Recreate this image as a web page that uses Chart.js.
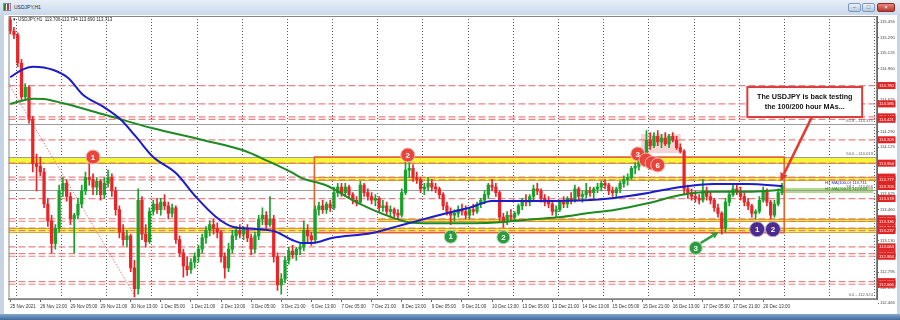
<!DOCTYPE html>
<html>
<head>
<meta charset="utf-8">
<title>USDJPY,H1</title>
<script src="https://cdn.jsdelivr.net/npm/chart.js@4.4.1/dist/chart.umd.min.js"></script>
<style>
  html, body { margin: 0; padding: 0; }
  body { width: 900px; height: 320px; overflow: hidden; position: relative; background: #c6d4e4; font-family: "Liberation Sans", Arial, sans-serif; }
  #titlebar { position: absolute; left: 0; top: 0; width: 900px; height: 15px; background: linear-gradient(#e8eff8, #c9d8ea); }
  #titlebar .icon { position: absolute; left: 3px; top: 3px; width: 8px; height: 8px; box-sizing: border-box; border: 1px solid #7b8ea6; background: linear-gradient(90deg, #2f8a2f 0 35%, #fff 35% 50%, #d23 50% 85%, #fff 85%); }
  #titlebar .name { position: absolute; left: 14px; top: 4px; font-size: 5px; color: #1d2a3c; }
  .btn { position: absolute; top: 3px; height: 9px; box-sizing: border-box; border: 1px solid #7f98b8; border-radius: 2px; background: linear-gradient(#edf3fa, #b7cae1); font-size: 6px; line-height: 7px; text-align: center; color: #3d536e; }
  .btn.close { background: linear-gradient(#e88a7f, #b9352c); border-color: #8c2a22; color: #fff; }
  #panel { position: absolute; left: 4px; top: 15px; width: 893px; height: 299px; background: #fff; }
  #bottom { position: absolute; left: 0; top: 314px; width: 900px; height: 6px; background: linear-gradient(#86a7cb, #3e6b9b); }
  canvas { position: absolute; left: 0; top: 0; }
</style>
</head>
<body>
<div id="titlebar">
  <div class="icon"></div>
  <div class="name">USDJPY,H1</div>
  <div class="btn" style="left:848px;width:13px;">&#8211;</div>
  <div class="btn" style="left:862px;width:13px;">&#9633;</div>
  <div class="btn close" style="left:877px;width:18px;">&#215;</div>
</div>
<div id="panel"></div>
<div id="bottom"></div>
<canvas id="chart" width="900" height="320"></canvas>
<script>
// time axis: one label every 8 two-hour candles
const timeLabels = ["25 Nov 2021", "26 Nov 13:00", "29 Nov 05:00", "29 Nov 21:00", "30 Nov 13:00", "1 Dec 05:00",
  "1 Dec 21:00", "2 Dec 13:00", "3 Dec 05:00", "3 Dec 21:00", "6 Dec 13:00", "7 Dec 05:00", "7 Dec 21:00",
  "8 Dec 13:00", "9 Dec 05:00", "9 Dec 21:00", "10 Dec 13:00", "13 Dec 05:00", "13 Dec 21:00", "14 Dec 13:00",
  "15 Dec 05:00", "15 Dec 21:00", "16 Dec 13:00", "17 Dec 05:00", "17 Dec 21:00", "20 Dec 13:00"];
const timeTicks = [0, 8, 16, 24, 32, 40, 48, 56, 64, 72, 80, 88, 96, 104, 112, 120, 128, 136, 144, 152, 160, 168, 176, 184, 192, 200];
const dayLines = [1.5, 13.5, 25.5, 37.5, 49.5, 61.5, 73.5, 85.5, 97.5, 109.5, 121.5, 133.5, 145.5, 157.5, 169.5, 181.5, 193.5, 205.5, 217.5, 229.5];

const priceTicks = [112.465, 112.630, 112.795, 112.965, 113.130, 113.295, 113.460, 113.625, 113.795, 113.960,
  114.125, 114.290, 114.460, 114.625, 114.790, 114.960, 115.125, 115.290, 115.455];

// candles (2-hour)
const opens = [
  115.48,115.36,115.32,115.02,114.66,114.76,114.42,113.95,113.92,113.86,
  113.52,113.34,113.10,113.26,113.66,113.74,113.60,113.36,113.40,113.52,
  113.66,113.80,113.78,113.70,113.76,113.62,113.74,113.80,113.66,113.46,
  113.22,113.14,113.18,112.84,112.62,113.56,113.20,113.12,113.44,113.52,
  113.46,113.54,113.50,113.42,113.48,113.14,113.00,112.86,112.82,112.90,
  112.96,113.04,113.16,113.24,113.30,113.26,113.22,112.96,112.84,113.04,
  113.18,113.24,113.20,113.26,113.16,113.04,113.18,113.36,113.40,113.30,
  113.36,112.96,112.66,112.72,112.92,113.02,112.98,113.04,113.06,113.24,
  113.18,113.14,113.46,113.50,113.46,113.52,113.48,113.64,113.70,113.64,
  113.70,113.62,113.56,113.54,113.72,113.64,113.60,113.56,113.58,113.48,
  113.50,113.44,113.46,113.42,113.40,113.64,113.88,113.90,113.80,113.78,
  113.68,113.70,113.74,113.70,113.68,113.62,113.50,113.44,113.40,113.42,
  113.46,113.44,113.40,113.46,113.44,113.52,113.56,113.62,113.72,113.70,
  113.64,113.38,113.34,113.40,113.38,113.42,113.50,113.56,113.54,113.60,
  113.68,113.66,113.58,113.54,113.52,113.44,113.46,113.54,113.52,113.58,
  113.56,113.68,113.60,113.62,113.66,113.64,113.68,113.70,113.74,113.72,
  113.66,113.64,113.68,113.74,113.78,113.80,113.90,113.92,113.98,114.04,
  114.20,114.14,114.24,114.18,114.22,114.16,114.24,114.20,114.12,114.08,
  113.68,113.64,113.60,113.58,113.56,113.66,113.60,113.56,113.48,113.42,
  113.26,113.54,113.62,113.68,113.66,113.60,113.54,113.50,113.42,113.44,
  113.56,113.66,113.54,113.40,113.52,113.64];
const highs = [
  115.51,115.40,115.34,115.06,114.80,114.78,114.45,114.05,114.02,113.90,
  113.58,113.40,113.30,113.72,113.80,113.78,113.64,113.42,113.58,113.72,
  113.86,113.95,113.84,113.80,113.78,113.80,113.88,113.84,113.70,113.50,
  113.30,113.24,113.20,112.92,113.68,113.60,113.30,113.48,113.56,113.58,
  113.58,113.62,113.54,113.52,113.50,113.18,113.04,112.96,112.94,113.00,
  113.08,113.20,113.28,113.34,113.36,113.32,113.24,113.00,113.10,113.24,
  113.28,113.30,113.28,113.30,113.20,113.22,113.40,113.48,113.44,113.60,
  113.40,113.00,112.78,112.96,113.06,113.08,113.06,113.10,113.34,113.30,
  113.22,113.50,113.54,113.56,113.54,113.56,113.70,113.74,113.74,113.74,
  113.72,113.64,113.60,113.76,113.74,113.68,113.64,113.62,113.60,113.56,
  113.54,113.50,113.48,113.46,113.68,113.96,113.96,113.94,113.86,113.80,
  113.74,113.80,113.78,113.74,113.70,113.64,113.54,113.48,113.46,113.50,
  113.52,113.50,113.48,113.52,113.54,113.58,113.66,113.74,113.78,113.74,
  113.66,113.42,113.44,113.46,113.44,113.52,113.58,113.62,113.62,113.72,
  113.74,113.68,113.62,113.60,113.54,113.50,113.56,113.60,113.60,113.64,
  113.72,113.70,113.66,113.74,113.70,113.70,113.74,113.76,113.78,113.74,
  113.70,113.70,113.76,113.82,113.84,113.92,113.96,114.00,114.06,114.30,
  114.28,114.28,114.30,114.26,114.28,114.26,114.28,114.24,114.16,114.10,
  113.72,113.68,113.66,113.62,113.78,113.70,113.64,113.58,113.52,113.44,
  113.58,113.66,113.72,113.72,113.70,113.64,113.58,113.52,113.46,113.60,
  113.70,113.68,113.56,113.56,113.68,113.74];
const lows = [
  115.33,115.28,114.98,114.62,114.62,114.38,113.86,113.66,113.82,113.48,
  113.28,113.00,113.04,113.22,113.60,113.55,113.30,113.00,113.36,113.48,
  113.62,113.72,113.62,113.62,113.56,113.58,113.70,113.60,113.40,113.16,
  113.08,113.06,112.80,112.53,112.56,113.14,113.06,113.10,113.40,113.42,
  113.40,113.46,113.36,113.38,113.10,112.96,112.74,112.76,112.78,112.84,
  112.90,113.00,113.10,113.18,113.20,113.16,112.90,112.73,112.80,113.00,
  113.14,113.16,113.14,113.12,112.98,113.00,113.14,113.30,113.26,113.28,
  112.90,112.60,112.56,112.68,112.88,112.94,112.92,112.98,113.02,113.12,
  113.08,113.10,113.40,113.42,113.42,113.44,113.46,113.60,113.60,113.60,
  113.58,113.52,113.50,113.52,113.60,113.56,113.52,113.50,113.44,113.44,
  113.40,113.38,113.38,113.36,113.38,113.62,113.80,113.76,113.74,113.64,
  113.62,113.66,113.66,113.64,113.58,113.46,113.40,113.30,113.34,113.38,
  113.40,113.36,113.36,113.40,113.42,113.48,113.52,113.58,113.66,113.60,
  113.34,113.27,113.30,113.34,113.34,113.40,113.46,113.50,113.50,113.56,
  113.62,113.54,113.50,113.48,113.40,113.38,113.44,113.48,113.48,113.52,
  113.54,113.56,113.54,113.58,113.60,113.58,113.64,113.66,113.68,113.62,
  113.60,113.58,113.64,113.70,113.72,113.78,113.84,113.88,113.94,114.00,
  114.10,114.12,114.14,114.12,114.14,114.12,114.18,114.10,114.06,113.62,
  113.58,113.56,113.54,113.52,113.54,113.56,113.52,113.44,113.38,113.20,
  113.22,113.50,113.60,113.62,113.56,113.50,113.46,113.38,113.36,113.42,
  113.54,113.50,113.36,113.38,113.50,113.62];
const closes = [
  115.36,115.32,115.02,114.66,114.76,114.42,113.95,113.92,113.86,113.52,
  113.34,113.10,113.26,113.66,113.74,113.60,113.36,113.40,113.52,113.66,
  113.80,113.78,113.70,113.76,113.62,113.74,113.80,113.66,113.46,113.22,
  113.14,113.18,112.84,112.62,113.56,113.20,113.12,113.44,113.52,113.46,
  113.54,113.50,113.42,113.48,113.14,113.00,112.86,112.82,112.90,112.96,
  113.04,113.16,113.24,113.30,113.26,113.22,112.96,112.84,113.04,113.18,
  113.24,113.20,113.26,113.16,113.04,113.18,113.36,113.40,113.30,113.36,
  112.96,112.66,112.72,112.92,113.02,112.98,113.04,113.06,113.24,113.18,
  113.14,113.46,113.50,113.46,113.52,113.48,113.64,113.70,113.64,113.70,
  113.62,113.56,113.54,113.72,113.64,113.60,113.56,113.58,113.48,113.50,
  113.44,113.46,113.42,113.40,113.64,113.88,113.90,113.80,113.78,113.68,
  113.70,113.74,113.70,113.68,113.62,113.50,113.44,113.40,113.42,113.46,
  113.44,113.40,113.46,113.44,113.52,113.56,113.62,113.72,113.70,113.64,
  113.38,113.34,113.40,113.38,113.42,113.50,113.56,113.54,113.60,113.68,
  113.66,113.58,113.54,113.52,113.44,113.46,113.54,113.52,113.58,113.56,
  113.68,113.60,113.62,113.66,113.64,113.68,113.70,113.74,113.72,113.66,
  113.64,113.68,113.74,113.78,113.80,113.90,113.92,113.98,114.04,114.20,
  114.14,114.24,114.18,114.22,114.16,114.24,114.20,114.12,114.08,113.68,
  113.64,113.60,113.58,113.56,113.66,113.60,113.56,113.48,113.42,113.26,
  113.54,113.62,113.68,113.66,113.60,113.54,113.50,113.42,113.44,113.56,
  113.66,113.54,113.40,113.52,113.64,113.71];

// moving averages
const ma100X = [0, 3.0, 6.2, 11.5, 15.4, 19.4, 24.7, 29.0, 33.4, 37.9, 44.0, 49.3, 54.6, 59.1, 65.2, 70.5, 74.9,
  77.6, 80.2, 85.5, 96.1, 104.1, 112.0, 117.3, 122.6, 127.9, 136.6, 154.3, 160.4, 169.4, 178.1, 186.9, 195.9, 205.1];
const ma100Y = [114.868, 114.945, 114.980, 114.945, 114.860, 114.679, 114.555, 114.431, 114.236, 114.023, 113.850,
  113.597, 113.385, 113.278, 113.254, 113.225, 113.137, 113.105, 113.105, 113.158, 113.211, 113.296, 113.381, 113.435,
  113.488, 113.552, 113.552, 113.563, 113.584, 113.637, 113.701, 113.733, 113.733, 113.711];
const ma200X = [0, 6.2, 8.8, 14.1, 24.7, 37.9, 51.1, 61.7, 68.8, 74.9, 77.6, 83.7, 92.6, 101.4, 106.7, 114.6, 127.9,
  136.6, 145.5, 154.3, 160.4, 169.3, 178.1, 186.9, 195.8, 204.6];
const ma200Y = [114.584, 114.640, 114.637, 114.591, 114.474, 114.325, 114.201, 114.094, 113.970, 113.853, 113.793,
  113.722, 113.527, 113.378, 113.321, 113.315, 113.321, 113.350, 113.378, 113.427, 113.456, 113.527, 113.616, 113.651,
  113.651, 113.669];

// drawn objects
const levelLines = [114.780, 114.585, 114.447, 114.421, 114.203, 113.954, 113.806, 113.777, 113.578, 113.363, 113.336,
  113.264, 113.237, 113.064, 112.992, 112.964, 112.694, 112.666];
const priceTags = [114.780, 114.585, 114.447, 114.421, 114.203, 113.954, 113.806, 113.777, 113.706, 113.578, 113.363,
  113.336, 113.264, 113.237, 113.064, 112.992, 112.964, 112.694, 112.666];
const fibLevels = [114.371, 114.019, 113.666, 112.524];
const fibNames = ["61.8", "50.0", "38.2", "0.0"];
const fibLineX = [-11.0, 33.4];
const fibLineY = [115.514, 112.524];
const zoneFrom = [-0.45, 80.8, 97.4, -0.45];
const zoneLow = [113.954, 113.777, 113.336, 113.225];
const zoneHigh = [114.019, 113.806, 113.363, 113.264];
const boxX = [80.8, 205.6];
const boxY = [113.215, 114.019];
const highlightX = [167.6, 178.1];
const highlightY = [114.062, 114.265];
const maTagX = [205.5, 229.2];
const maTagY = [113.637, 113.690];

const redMarkX = [22.0, 105.6, 166.7, 168.9, 170.5, 172.0];
const redMarkY = [114.020, 114.041, 114.052, 113.988, 113.956, 113.935];
const redMarkText = ["1", "2", "3", "4", "5", "6"];
const greenMarkX = [117.0, 131.0, 182.1];
const greenMarkY = [113.172, 113.166, 113.052];
const greenMarkText = ["1", "2", "3"];
const purpleMarkX = [198.4, 202.6];
const purpleMarkY = [113.251, 113.251];
const purpleMarkText = ["1", "2"];

const noteLines = ["The USDJPY is back testing", "the 100/200 hour MAs..."];
const noteX = [195.8, 226.3];
const noteY = [114.445, 114.764];
const redArrowX = [213.0, 204.6];
const redArrowY = [114.449, 113.764];
const greenArrowX = [183.4, 188.2];
const greenArrowY = [113.105, 113.222];

const symbolName = "USDJPY,H1";
const lastBar = ["113.706", "113.734", "113.690", "113.713"];

const BULL = "#17a22a";
const BEAR = "#e8262a";
const FONT = '"Liberation Sans", Arial, sans-serif';

function arrow(ctx, x0, y0, x1, y1, color, width, head) {
    const ang = Math.atan2(y1 - y0, x1 - x0);
    const bx = x1 - Math.cos(ang) * head;
    const by = y1 - Math.sin(ang) * head;
    ctx.strokeStyle = color;
    ctx.fillStyle = color;
    ctx.lineWidth = width;
    ctx.beginPath();
    ctx.moveTo(x0, y0);
    ctx.lineTo(bx, by);
    ctx.stroke();
    ctx.beginPath();
    ctx.moveTo(x1, y1);
    ctx.lineTo(bx + Math.sin(ang) * head * 0.5, by - Math.cos(ang) * head * 0.5);
    ctx.lineTo(bx - Math.sin(ang) * head * 0.5, by + Math.cos(ang) * head * 0.5);
    ctx.closePath();
    ctx.fill();
}

const overlay = {
    id: "overlay",
    beforeDatasetsDraw(chart) {
        const { ctx, chartArea: a, scales: { x, y } } = chart;
        ctx.save();
        ctx.beginPath();
        ctx.rect(a.left, a.top, a.right - a.left, a.bottom - a.top);
        ctx.clip();

        ctx.strokeStyle = "rgba(60,60,60,0.85)";
        ctx.lineWidth = 1;
        ctx.setLineDash([1, 2]);
        dayLines.forEach(v => {
            const px = Math.round(x.getPixelForValue(v)) + 0.5;
            ctx.beginPath();
            ctx.moveTo(px, a.top);
            ctx.lineTo(px, a.bottom);
            ctx.stroke();
        });
        ctx.setLineDash([]);

        // highlight box at the 15 Dec highs
        const hx0 = x.getPixelForValue(highlightX[0]), hx1 = x.getPixelForValue(highlightX[1]);
        const hy0 = y.getPixelForValue(highlightY[1]), hy1 = y.getPixelForValue(highlightY[0]);
        ctx.fillStyle = "rgba(242,160,160,0.45)";
        ctx.fillRect(hx0, hy0, hx1 - hx0, hy1 - hy0);

        zoneLow.forEach((lo, k) => {
            const x0 = x.getPixelForValue(zoneFrom[k]);
            const y0 = y.getPixelForValue(zoneHigh[k]);
            const y1 = y.getPixelForValue(lo);
            ctx.fillStyle = "rgba(245,245,35,0.9)";
            ctx.fillRect(x0, y0, a.right - x0, y1 - y0);
            ctx.strokeStyle = "rgba(205,160,30,0.9)";
            ctx.lineWidth = 1;
            ctx.beginPath();
            ctx.moveTo(x0, Math.round(y0) + 0.5);
            ctx.lineTo(a.right, Math.round(y0) + 0.5);
            ctx.moveTo(x0, Math.round(y1) + 0.5);
            ctx.lineTo(a.right, Math.round(y1) + 0.5);
            ctx.stroke();
        });

        const gx0 = x.getPixelForValue(maTagX[0]), gx1 = x.getPixelForValue(maTagX[1]);
        const gy0 = y.getPixelForValue(maTagY[1]), gy1 = y.getPixelForValue(maTagY[0]);
        ctx.fillStyle = "rgba(150,205,95,0.75)";
        ctx.fillRect(gx0, gy0, gx1 - gx0, gy1 - gy0);

        ctx.strokeStyle = "rgba(228,112,112,0.85)";
        ctx.lineWidth = 1.2;
        ctx.setLineDash([7, 3]);
        levelLines.forEach(v => {
            const py = y.getPixelForValue(v);
            ctx.beginPath();
            ctx.moveTo(a.left, py);
            ctx.lineTo(a.right, py);
            ctx.stroke();
        });
        ctx.setLineDash([]);

        ctx.strokeStyle = "#9c9c9c";
        ctx.lineWidth = 1;
        fibLevels.forEach(v => {
            const py = Math.round(y.getPixelForValue(v)) + 0.5;
            ctx.beginPath();
            ctx.moveTo(a.left, py);
            ctx.lineTo(a.right, py);
            ctx.stroke();
        });

        const bx0 = x.getPixelForValue(boxX[0]), bx1 = x.getPixelForValue(boxX[1]);
        const by0 = y.getPixelForValue(boxY[1]), by1 = y.getPixelForValue(boxY[0]);
        ctx.strokeStyle = "#e6602e";
        ctx.lineWidth = 1.6;
        ctx.strokeRect(bx0, by0, bx1 - bx0, by1 - by0);
        ctx.restore();
    },
    afterDatasetsDraw(chart) {
        const { ctx, chartArea: a, scales: { x, y } } = chart;
        ctx.save();

        // marker numbers, hidden where a later circle covers them
        [[0, redMarkText], [1, greenMarkText], [2, purpleMarkText]].forEach(([di, texts]) => {
            const pts = chart.getDatasetMeta(di).data;
            pts.forEach((p, j) => {
                const covered = pts.slice(j + 1).some(q => Math.hypot(q.x - p.x, q.y - p.y) < 7);
                if (covered) return;
                ctx.fillStyle = "#fff";
                ctx.font = "bold 8px " + FONT;
                ctx.textAlign = "center";
                ctx.textBaseline = "middle";
                ctx.fillText(texts[j], p.x, p.y + 0.5);
            });
        });

        arrow(ctx, x.getPixelForValue(greenArrowX[0]), y.getPixelForValue(greenArrowY[0]),
            x.getPixelForValue(greenArrowX[1]), y.getPixelForValue(greenArrowY[1]), "#2f9d3c", 2.5, 7);
        arrow(ctx, x.getPixelForValue(redArrowX[0]), y.getPixelForValue(redArrowY[0]),
            x.getPixelForValue(redArrowX[1]), y.getPixelForValue(redArrowY[1]), "#e43a34", 2.5, 8);

        const nx0 = x.getPixelForValue(noteX[0]), nx1 = x.getPixelForValue(noteX[1]);
        const ny0 = y.getPixelForValue(noteY[1]), ny1 = y.getPixelForValue(noteY[0]);
        ctx.fillStyle = "#fff";
        ctx.fillRect(nx0, ny0, nx1 - nx0, ny1 - ny0);
        ctx.strokeStyle = "#d83c3c";
        ctx.lineWidth = 2;
        ctx.strokeRect(nx0, ny0, nx1 - nx0, ny1 - ny0);
        ctx.fillStyle = "#111";
        ctx.font = "bold 7.2px " + FONT;
        ctx.textAlign = "center";
        ctx.textBaseline = "middle";
        noteLines.forEach((t, k) => ctx.fillText(t, (nx0 + nx1) / 2, ny0 + 10 + k * 10));

        ctx.font = "4.2px " + FONT;
        ctx.textAlign = "right";
        ctx.textBaseline = "bottom";
        ctx.fillStyle = "#606060";
        fibLevels.forEach((v, k) => {
            ctx.fillText(fibNames[k] + " - " + v.toFixed(3), a.right - 4, y.getPixelForValue(v) - 1);
        });

        const last100 = ma100Y[ma100Y.length - 1], last200 = ma200Y[ma200Y.length - 1];
        ctx.textAlign = "left";
        ctx.textBaseline = "middle";
        ctx.fillStyle = "#1c1cc8";
        ctx.fillText("H1 MA(100,0) " + last100.toFixed(3), a.right - 52, y.getPixelForValue(last100) - 3);
        ctx.fillStyle = "#1e7a22";
        ctx.fillText("H1 MA(200,0) " + last200.toFixed(3), a.right - 52, y.getPixelForValue(last200) - 1);

        ctx.fillStyle = "#1a1a1a";
        ctx.font = "4.5px " + FONT;
        ctx.textBaseline = "middle";
        ctx.fillText("\u25BE  " + symbolName + "  " + lastBar.join(" "), a.left + 4, a.top + 4);

        ctx.strokeStyle = "#858585";
        ctx.lineWidth = 1;
        ctx.strokeRect(a.left + 0.5, a.top + 0.5, a.right - a.left - 1, a.bottom - a.top);
        ctx.restore();
    },
    afterDraw(chart) {
        const { ctx, chartArea: a, scales: { y } } = chart;
        ctx.save();
        ctx.font = "4.2px " + FONT;
        ctx.textAlign = "center";
        ctx.textBaseline = "middle";
        priceTags.forEach(v => {
            const py = y.getPixelForValue(v);
            ctx.fillStyle = "#e02424";
            ctx.fillRect(a.right + 0.5, py - 3.5, 18, 7);
            ctx.fillStyle = "#fff";
            ctx.fillText(v.toFixed(3), a.right + 9.5, py + 0.3);
        });
        ctx.restore();
    }
};

const candleColors = closes.map((c, i) => (c >= opens[i] ? BULL : BEAR));

new Chart(document.getElementById("chart"), {
    type: "bar",
    data: {
        datasets: [
            {
                type: "scatter",
                data: redMarkX.map((v, i) => ({ x: v, y: redMarkY[i] })),
                pointRadius: 7,
                backgroundColor: "#e8453c",
                borderColor: "#f7b3aa",
                borderWidth: 1
            },
            {
                type: "scatter",
                data: greenMarkX.map((v, i) => ({ x: v, y: greenMarkY[i] })),
                pointRadius: 6.5,
                backgroundColor: "#2c9a3e",
                borderColor: "#a9dcae",
                borderWidth: 1
            },
            {
                type: "scatter",
                data: purpleMarkX.map((v, i) => ({ x: v, y: purpleMarkY[i] })),
                pointRadius: 7.5,
                backgroundColor: "#4b2c8e",
                borderColor: "#b5a6da",
                borderWidth: 1
            },
            {
                type: "line",
                data: ma100X.map((v, i) => ({ x: v, y: ma100Y[i] })),
                borderColor: "#1c1cc8",
                borderWidth: 2,
                pointRadius: 0,
                cubicInterpolationMode: "monotone"
            },
            {
                type: "line",
                data: ma200X.map((v, i) => ({ x: v, y: ma200Y[i] })),
                borderColor: "#1e8a22",
                borderWidth: 2,
                pointRadius: 0,
                cubicInterpolationMode: "monotone"
            },
            {
                data: closes.map((c, i) => ({ x: i, y: [opens[i], c] })),
                backgroundColor: candleColors,
                barThickness: 2.6,
                minBarLength: 1,
                grouped: false,
                borderWidth: 0
            },
            {
                data: closes.map((c, i) => ({ x: i, y: [lows[i], highs[i]] })),
                backgroundColor: candleColors,
                barThickness: 1,
                grouped: false,
                borderWidth: 0
            },
            {
                type: "line",
                data: fibLineX.map((v, i) => ({ x: v, y: fibLineY[i] })),
                borderColor: "rgba(222,90,90,0.8)",
                borderWidth: 1,
                borderDash: [1.5, 1.5],
                pointRadius: 0
            }
        ]
    },
    options: {
        responsive: false,
        devicePixelRatio: 1,
        animation: false,
        events: [],
        layout: { padding: { left: 5, top: 16, right: 0, bottom: 0 } },
        plugins: { legend: { display: false }, tooltip: { enabled: false } },
        scales: {
            x: {
                type: "linear",
                min: -0.45,
                max: 230.24,
                offset: false,
                afterBuildTicks: s => { s.ticks = timeTicks.map(v => ({ value: v })); },
                afterFit: s => { s.height = 21; },
                ticks: {
                    autoSkip: false,
                    maxRotation: 0,
                    minRotation: 0,
                    align: "start",
                    padding: 2,
                    color: "#333",
                    font: { family: FONT, size: 4.5 },
                    callback: (v, i) => timeLabels[i]
                },
                grid: { offset: false, drawOnChartArea: false, tickLength: 3, color: "#666" },
                border: { color: "#666" }
            },
            y: {
                type: "linear",
                position: "right",
                min: 112.509,
                max: 115.520,
                afterBuildTicks: s => { s.ticks = priceTicks.map(v => ({ value: v })); },
                afterFit: s => { s.width = 23; },
                ticks: {
                    autoSkip: false,
                    padding: 1,
                    color: "#444",
                    font: { family: FONT, size: 4.2 },
                    callback: v => v.toFixed(3)
                },
                grid: { drawOnChartArea: false, tickLength: 2, color: "#666" },
                border: { color: "#666" }
            }
        }
    },
    plugins: [overlay]
});
</script>
</body>
</html>
